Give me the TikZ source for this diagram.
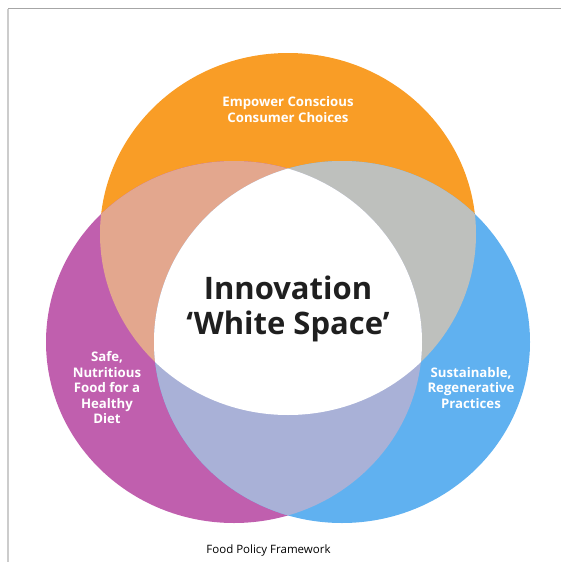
\documentclass[tikz,border=0pt]{standalone}
\usepackage{fontspec}
\setmainfont{Open Sans}
\definecolor{foodorange}{HTML}{F99D26}
\definecolor{foodmagenta}{HTML}{C05FAE}
\definecolor{foodblue}{HTML}{60B1F0}
\definecolor{foodpeach}{HTML}{E3A78E}
\definecolor{foodgrey}{HTML}{BEC0BD}
\definecolor{foodlilac}{HTML}{A9B1D7}
\definecolor{framegrey}{HTML}{A6A6A6}
\definecolor{framelight}{HTML}{CCCCCC}

\begin{document}
\begin{tikzpicture}[x=1pt,y=-1pt,
  circlabel/.style={text=white,align=center,inner sep=0pt,
    font=\bfseries\fontsize{13.2}{15.5}\selectfont}]
\useasboundingbox (0,0) rectangle (561,562);
% Frame
\draw[framegrey,line width=1.2pt] (8,8.5) -- (561,8.5);
\draw[framelight,line width=1.2pt] (8,8.5) -- (8,562);

% Three circles
\def\rx{188}\def\ry{181}
\fill[foodorange] (288,234) ellipse [x radius=\rx,y radius=\ry];
\fill[foodmagenta] (234,342) ellipse [x radius=\rx,y radius=\ry];
\fill[foodblue] (342,342) ellipse [x radius=\rx,y radius=\ry];

% Overlaps
\begin{scope}
  \clip (234,342) ellipse [x radius=\rx,y radius=\ry];
  \fill[foodpeach] (288,234) ellipse [x radius=\rx,y radius=\ry];
\end{scope}
\begin{scope}
  \clip (342,342) ellipse [x radius=\rx,y radius=\ry];
  \fill[foodgrey] (288,234) ellipse [x radius=\rx,y radius=\ry];
\end{scope}
\begin{scope}
  \clip (234,342) ellipse [x radius=\rx,y radius=\ry];
  \fill[foodlilac] (342,342) ellipse [x radius=\rx,y radius=\ry];
\end{scope}
\begin{scope}
  \clip (234,342) ellipse [x radius=\rx,y radius=\ry];
  \clip (342,342) ellipse [x radius=\rx,y radius=\ry];
  \fill[white] (288,234) ellipse [x radius=\rx,y radius=\ry];
\end{scope}

% Labels
\node[circlabel] (consumer) at (288,109.5) {Empower Conscious\\Consumer Choices};
\node[circlabel] (diet) at (107,388) {Safe,\\Nutritious\\Food for a\\Healthy\\Diet};
\node[circlabel] (practices) at (471,388) {Sustainable,\\Regenerative\\Practices};
\node[align=center,inner sep=0pt,text=black!88,
  font=\bfseries\fontsize{31}{35}\selectfont] (whitespace) at (288,309)
  {Innovation\\‘White Space’};

% Title
\node[anchor=base,inner sep=0pt,font=\fontsize{11.5}{13}\selectfont] (caption)
  at (268.5,553) {Food Policy Framework};
\end{tikzpicture}
\end{document}
